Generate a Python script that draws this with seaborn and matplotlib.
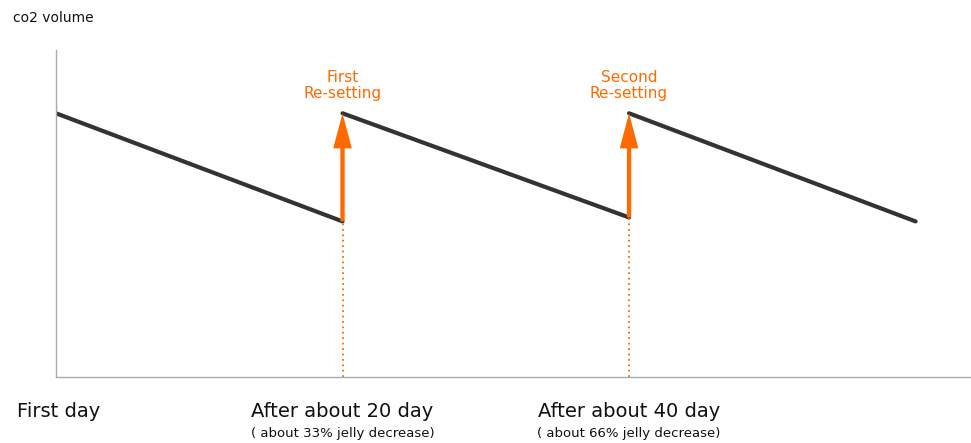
import numpy as np
import pandas as pd
import matplotlib.pyplot as plt
import seaborn as sns

# Data (days vs arbitrary co2 volume)
seg_days = [[0, 20], [20, 40], [40, 60]]
seg_vol = [[100, 59], [100, 60.5], [100, 59]]
reset_days = [20, 40]
reset_labels = ['First\nRe-setting', 'Second\nRe-setting']
tick_days = [0, 20, 40]
tick_labels = ['First day', 'After about 20 day', 'After about 40 day']
sub_labels = ['', '( about 33% jelly decrease)', '( about 66% jelly decrease)']

orange = '#ff6a00'
dark = '#333333'

sns.set_style('white')
plt.rcParams['font.family'] = ['DejaVu Sans']

fig = plt.figure(figsize=(9.71, 4.43), dpi=100)
ax = fig.add_axes([56 / 971, 66 / 443, 914 / 971, 327 / 443])

rows = []
for i, (d, v) in enumerate(zip(seg_days, seg_vol)):
    for dd, vv in zip(d, v):
        rows.append({'seg': i, 'day': dd, 'vol': vv})
df = pd.DataFrame(rows)
sns.lineplot(data=df, x='day', y='vol', units='seg', estimator=None,
             color=dark, linewidth=3, ax=ax)

# Reset arrows and dotted guides
for i, (d, lab) in enumerate(zip(reset_days, reset_labels)):
    low = seg_vol[i][1]
    top = seg_vol[i + 1][0]
    ax.arrow(d, low, 0, top - low, width=0.3, head_width=1.3,
             head_length=13.3, length_includes_head=True, color=orange,
             lw=0, zorder=3)
    ax.vlines(d, 0, low, colors=orange, linestyles=(0, (1, 2)), linewidth=1.3)
    ax.text(d, top + 4.5, lab, ha='center', va='bottom', color=orange,
            fontsize=11, linespacing=1.1)

ax.set_xlim(0, 63.8)
ax.set_ylim(0, 124)
ax.set_xticks([])
ax.set_yticks([])
ax.set_xlabel('')
ax.set_ylabel('')
for s in ['top', 'right']:
    ax.spines[s].set_visible(False)
for s in ['left', 'bottom']:
    ax.spines[s].set_color('#aaaaaa')
    ax.spines[s].set_linewidth(1)

# Bottom labels
for d, lab, sub in zip(tick_days, tick_labels, sub_labels):
    if d == 0:
        ax.text(-39 / 14.3, -13, lab, ha='left', va='center', fontsize=14,
                color='#111111', clip_on=False)
    else:
        ax.text(d, -13, lab, ha='center', va='center', fontsize=14,
                color='#111111', clip_on=False)
        ax.text(d, -21.5, sub, ha='center', va='center', fontsize=9.5,
                color='#111111', clip_on=False)

fig.text(13 / 971, 1 - 18 / 443, 'co2 volume', ha='left', va='center',
         fontsize=10, color='#111111')

plt.savefig('out.png', dpi=100)
